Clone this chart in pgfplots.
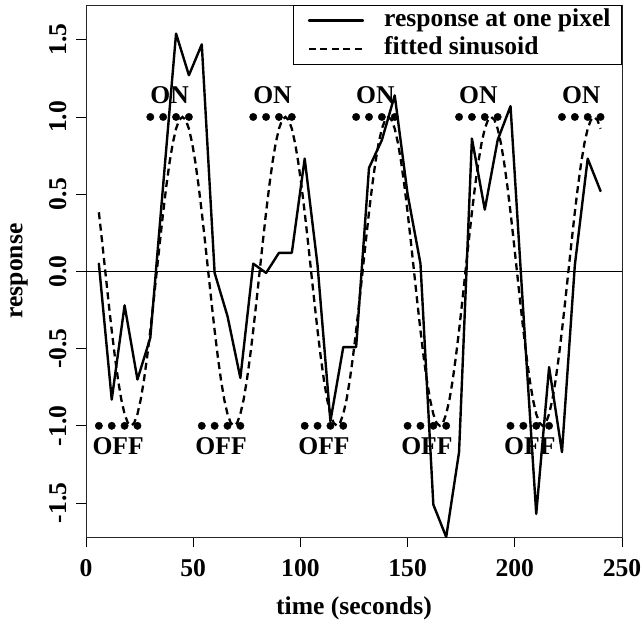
\documentclass[border=0pt]{standalone}
\usepackage{fontspec}
\setmainfont{Liberation Serif}
\usepackage{pgfplots}
\pgfplotsset{compat=1.18}
\newcommand{\ff}{\fontsize{25.7}{30}\selectfont\bfseries}
\pgfplotstableread{
t y
6 0.05
12 -0.83
18 -0.22
24 -0.70
30 -0.43
36 0.56
42 1.54
48 1.27
54 1.47
60 -0.01
66 -0.29
72 -0.69
78 0.05
84 -0.01
90 0.12
96 0.12
102 0.73
108 0.04
114 -0.97
120 -0.49
126 -0.49
132 0.67
138 0.85
144 1.14
150 0.50
156 0.05
162 -1.51
168 -1.72
174 -1.17
180 0.86
186 0.40
192 0.85
198 1.07
204 -0.27
210 -1.57
216 -0.62
222 -1.17
228 0.04
234 0.73
240 0.52
}\response
\pgfplotstableread{
t y
6 0.3827
7.5 0.1951
9 0
10.5 -0.1951
12 -0.3827
13.5 -0.5556
15 -0.7071
16.5 -0.8315
18 -0.9239
19.5 -0.9808
21 -1
22.5 -0.9808
24 -0.9239
25.5 -0.8315
27 -0.7071
28.5 -0.5556
30 -0.3827
31.5 -0.1951
33 0
34.5 0.1951
36 0.3827
37.5 0.5556
39 0.7071
40.5 0.8315
42 0.9239
43.5 0.9808
45 1
46.5 0.9808
48 0.9239
49.5 0.8315
51 0.7071
52.5 0.5556
54 0.3827
55.5 0.1951
57 0
58.5 -0.1951
60 -0.3827
61.5 -0.5556
63 -0.7071
64.5 -0.8315
66 -0.9239
67.5 -0.9808
69 -1
70.5 -0.9808
72 -0.9239
73.5 -0.8315
75 -0.7071
76.5 -0.5556
78 -0.3827
79.5 -0.1951
81 0
82.5 0.1951
84 0.3827
85.5 0.5556
87 0.7071
88.5 0.8315
90 0.9239
91.5 0.9808
93 1
94.5 0.9808
96 0.9239
97.5 0.8315
99 0.7071
100.5 0.5556
102 0.3827
103.5 0.1951
105 0
106.5 -0.1951
108 -0.3827
109.5 -0.5556
111 -0.7071
112.5 -0.8315
114 -0.9239
115.5 -0.9808
117 -1
118.5 -0.9808
120 -0.9239
121.5 -0.8315
123 -0.7071
124.5 -0.5556
126 -0.3827
127.5 -0.1951
129 0
130.5 0.1951
132 0.3827
133.5 0.5556
135 0.7071
136.5 0.8315
138 0.9239
139.5 0.9808
141 1
142.5 0.9808
144 0.9239
145.5 0.8315
147 0.7071
148.5 0.5556
150 0.3827
151.5 0.1951
153 0
154.5 -0.1951
156 -0.3827
157.5 -0.5556
159 -0.7071
160.5 -0.8315
162 -0.9239
163.5 -0.9808
165 -1
166.5 -0.9808
168 -0.9239
169.5 -0.8315
171 -0.7071
172.5 -0.5556
174 -0.3827
175.5 -0.1951
177 0
178.5 0.1951
180 0.3827
181.5 0.5556
183 0.7071
184.5 0.8315
186 0.9239
187.5 0.9808
189 1
190.5 0.9808
192 0.9239
193.5 0.8315
195 0.7071
196.5 0.5556
198 0.3827
199.5 0.1951
201 0
202.5 -0.1951
204 -0.3827
205.5 -0.5556
207 -0.7071
208.5 -0.8315
210 -0.9239
211.5 -0.9808
213 -1
214.5 -0.9808
216 -0.9239
217.5 -0.8315
219 -0.7071
220.5 -0.5556
222 -0.3827
223.5 -0.1951
225 0
226.5 0.1951
228 0.3827
229.5 0.5556
231 0.7071
232.5 0.8315
234 0.9239
235.5 0.9808
237 1
238.5 0.9808
240 0.9239
}\fitted
\pgfplotstableread{
t y
30 1
36 1
42 1
48 1
78 1
84 1
90 1
96 1
126 1
132 1
138 1
144 1
174 1
180 1
186 1
192 1
222 1
228 1
234 1
240 1
6 -1
12 -1
18 -1
24 -1
54 -1
60 -1
66 -1
72 -1
102 -1
108 -1
114 -1
120 -1
150 -1
156 -1
162 -1
168 -1
198 -1
204 -1
210 -1
216 -1
}\dots
\begin{document}
\begin{tikzpicture}
\begin{axis}[name=ax, width=536bp, height=532bp, scale only axis,
  xmin=0, xmax=250, ymin=-1.72, ymax=1.725,
  axis line style={line width=0.8bp, black!85},
  xtick={0,50,100,150,200,250},
  xticklabels={0,50,100,150,200,250},
  ytick={-1.5,-1,-0.5,0,0.5,1,1.5},
  yticklabels={-1.5,-1.0,-0.5,0.0,0.5,1.0,1.5},
  tick pos=left, tick align=outside, major tick length=10bp,
  tick style={line width=0.8bp, black},
  ticklabel style={font=\ff},
  yticklabel style={rotate=90, anchor=south},
  yticklabel shift=6bp,
  xticklabel shift=9bp,
  xlabel={time (seconds)}, ylabel={response},
  label style={font=\ff},
  xlabel style={at={(axis description cs:0.5,-0.1335)}, anchor=center},
  ylabel style={at={(axis description cs:-0.125,0.5)}, anchor=center},
  legend style={at={(1,1)}, anchor=north east, font=\ff, draw=black, line width=0.8bp,
    fill=white, inner xsep=1bp, inner ysep=1bp, row sep=0bp,
    nodes={inner xsep=10bp, inner ysep=3bp, text height=17bp, text depth=5.5bp},
    /tikz/column 1/.style={column sep=10bp}},
  legend cell align=left,
  legend image code/.code={\path (0bp,0bp); \draw[#1] (13bp,0bp) -- (67bp,0bp);},
]
\addplot[line width=0.8bp, black, forget plot] coordinates {(0,0) (250,0)};
\addplot[line width=2.4bp, black, line join=round, line cap=round] table[x=t,y=y] {\response};
\addlegendentry{response at one pixel}
\addplot[line width=2.3bp, black, dash pattern=on 7bp off 4.5bp] table[x=t,y=y] {\fitted};
\addlegendentry{fitted sinusoid}
\addplot[only marks, mark=*, mark size=3.7bp, black, forget plot] table[x=t,y=y] {\dots};
\node[font=\ff] at (axis cs:39,1.14) {ON};
\node[font=\ff] at (axis cs:87,1.14) {ON};
\node[font=\ff] at (axis cs:135,1.14) {ON};
\node[font=\ff] at (axis cs:183,1.14) {ON};
\node[font=\ff] at (axis cs:231,1.14) {ON};
\node[font=\ff] at (axis cs:15,-1.13) {OFF};
\node[font=\ff] at (axis cs:63,-1.13) {OFF};
\node[font=\ff] at (axis cs:111,-1.13) {OFF};
\node[font=\ff] at (axis cs:159,-1.13) {OFF};
\node[font=\ff] at (axis cs:207,-1.13) {OFF};
\end{axis}
\pgfresetboundingbox
\path[use as bounding box] ([xshift=-86bp,yshift=-92bp]ax.south west) rectangle ([xshift=22bp,yshift=5bp]ax.north east);
\end{tikzpicture}
\end{document}
